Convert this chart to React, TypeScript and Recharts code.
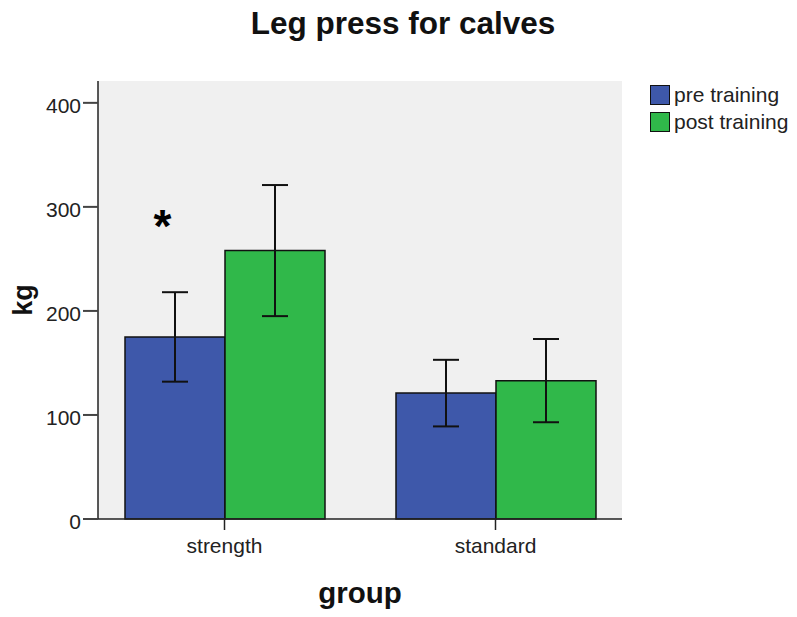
import React from 'react';
import {
  BarChart,
  Bar,
  XAxis,
  YAxis,
  ErrorBar,
  Legend,
  CartesianGrid,
  ReferenceDot,
} from 'recharts';

// Groups on the category axis
const groups = ['strength', 'standard'];
// Mean leg press (kg) and error half-widths per group
const preTraining = [175, 121];
const preTrainingError = [43, 32];
const postTraining = [258, 133];
const postTrainingError = [63, 40];
// Value axis ticks
const yTicks = [0, 100, 200, 300, 400];
// Series names, in legend order
const seriesNames = ['pre training', 'post training'];
// Significance marker
const markerGroup = 'strength';
const markerLevel = 282;

const PRE_COLOR = '#3e58aa';
const POST_COLOR = '#30b84a';
const FONT = '"Liberation Sans", Arial, sans-serif';

const data = groups.map((group, i) => ({
  group,
  pre: preTraining[i],
  preErr: preTrainingError[i],
  post: postTraining[i],
  postErr: postTrainingError[i],
}));

const LegendBox = (props: any) => {
  const items = [...(props.payload || [])].sort(
    (a: any, b: any) => seriesNames.indexOf(a.value) - seriesNames.indexOf(b.value),
  );
  return (
    <div style={{ fontFamily: FONT, fontSize: 21, color: '#222' }}>
      {items.map((item: any) => (
        <div
          key={item.value}
          style={{ display: 'flex', alignItems: 'center', height: 27 }}
        >
          <span
            style={{
              display: 'inline-block',
              width: 18,
              height: 18,
              background: item.color,
              border: '1.5px solid #111',
              marginRight: 4,
            }}
          />
          <span>{item.value}</span>
        </div>
      ))}
    </div>
  );
};

export default function App() {
  return (
    <div
      style={{
        position: 'absolute',
        left: 0,
        top: 0,
        width: 797,
        height: 617,
        background: '#fff',
        fontFamily: FONT,
      }}
    >
      <div
        style={{
          position: 'absolute',
          left: 0,
          width: 806,
          top: 5,
          textAlign: 'center',
          fontSize: 31.5,
          fontWeight: 'bold',
          color: '#111',
        }}
      >
        Leg press for calves
      </div>
      <BarChart
        width={797}
        height={617}
        data={data}
        margin={{ top: 81, right: 175, bottom: 0, left: 0 }}
        barGap={0}
        barSize={100}
        style={{ fontFamily: FONT }}
      >
        <CartesianGrid horizontal={false} vertical={false} fill="#f0f0f0" />
        <XAxis
          dataKey="group"
          height={98}
          padding={{ left: -9, right: -9 }}
          tickSize={11}
          tickMargin={8}
          stroke="#222"
          axisLine={{ stroke: '#222', strokeWidth: 1.5 }}
          tickLine={{ stroke: '#222', strokeWidth: 1.5 }}
          tick={{ fontSize: 21, fill: '#222' }}
          label={{
            value: 'group',
            position: 'insideBottom',
            offset: 14,
            fontSize: 29.5,
            fontWeight: 'bold',
            fill: '#111',
          }}
        />
        <XAxis
          xAxisId="top"
          orientation="top"
          dataKey="group"
          height={0}
          tick={false}
          tickLine={false}
          axisLine={{ stroke: '#555', strokeWidth: 2 }}
        />
        <YAxis
          width={98}
          domain={[0, 421]}
          ticks={yTicks}
          interval={0}
          tickSize={15}
          tickMargin={2}
          axisLine={{ stroke: '#222', strokeWidth: 1.5 }}
          tickLine={{ stroke: '#444', strokeWidth: 2 }}
          tick={{ fontSize: 21, fill: '#222', dy: 3 }}
          label={{
            value: 'kg',
            position: 'insideLeft',
            angle: -90,
            offset: 22,
            fontSize: 27,
            fontWeight: 'bold',
            fill: '#111',
            style: { textAnchor: 'middle' },
          }}
        />
        <YAxis
          yAxisId="right"
          orientation="right"
          width={0}
          domain={[0, 421]}
          tick={false}
          tickLine={false}
          axisLine={{ stroke: '#444', strokeWidth: 2 }}
        />
        <Legend
          layout="horizontal"
          verticalAlign="middle"
          align="center"
          wrapperStyle={{ left: 650, top: 81, width: 150 }}
          content={<LegendBox />}
        />
        <Bar
          dataKey="pre"
          name={seriesNames[0]}
          fill={PRE_COLOR}
          stroke="#111"
          strokeWidth={1.5}
          isAnimationActive={false}
        >
          <ErrorBar dataKey="preErr" width={13} stroke="#111" strokeWidth={2} />
        </Bar>
        <Bar
          dataKey="post"
          name={seriesNames[1]}
          fill={POST_COLOR}
          stroke="#111"
          strokeWidth={1.5}
          isAnimationActive={false}
        >
          <ErrorBar dataKey="postErr" width={13} stroke="#111" strokeWidth={2} />
        </Bar>
        <ReferenceDot
          x={markerGroup}
          y={markerLevel}
          r={0}
          fill="none"
          stroke="none"
          label={{
            value: '*',
            position: 'center',
            dx: -62,
            fontSize: 46,
            fontWeight: 'bold',
            fill: '#000',
          }}
        />
      </BarChart>
    </div>
  );
}
